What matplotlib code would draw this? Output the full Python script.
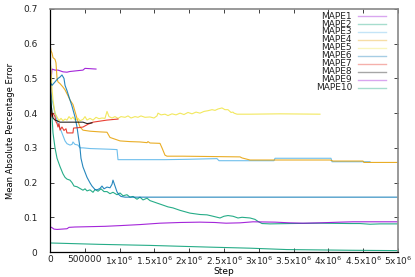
import numpy as np
import matplotlib
matplotlib.use("Agg")
import matplotlib.pyplot as plt

# step values in thousands, MAPE values
mape1_k = [0, 7, 14, 29, 72, 115, 187, 244, 287, 474, 503, 661]
mape1_v = [0.62, 0.50, 0.495, 0.527, 0.524, 0.524, 0.519, 0.518, 0.52, 0.524, 0.529, 0.527]

mape2_k = [0, 14, 29, 43, 72, 101, 144, 187, 216, 244, 287, 316, 345, 388, 431, 474, 503, 532,
           575, 618, 647, 690, 733, 776, 819, 862, 905, 963, 1006, 1049, 1106, 1149, 1193, 1250,
           1293, 1336, 1394, 1437, 1480, 1537, 1624, 1695, 1767, 1868, 1940, 2011, 2083, 2155,
           2256, 2342, 2443, 2500, 2557, 2629, 2701, 2759, 2874, 2945, 2989, 3046, 3161, 3448,
           3879, 4310, 4454, 4598, 4741, 4986]
mape2_v = [0.47, 0.44, 0.39, 0.343, 0.30, 0.27, 0.246, 0.225, 0.215, 0.21, 0.207, 0.20, 0.19,
           0.188, 0.183, 0.178, 0.182, 0.176, 0.179, 0.172, 0.18, 0.175, 0.182, 0.174, 0.174,
           0.168, 0.172, 0.165, 0.17, 0.162, 0.165, 0.158, 0.16, 0.152, 0.158, 0.15, 0.155,
           0.148, 0.145, 0.141, 0.135, 0.13, 0.127, 0.12, 0.116, 0.112, 0.11, 0.108, 0.107,
           0.103, 0.098, 0.103, 0.105, 0.103, 0.098, 0.10, 0.098, 0.094, 0.088, 0.082, 0.081,
           0.082, 0.083, 0.082, 0.082, 0.08, 0.081, 0.081]

mape3_k = [0, 29, 72, 115, 158, 187, 216, 244, 287, 316, 330, 359, 402, 431, 474, 575, 718,
           862, 963, 977, 1652, 1968, 2399, 2428, 3218, 3233, 4037, 4052, 4598]
mape3_v = [0.47, 0.44, 0.40, 0.37, 0.35, 0.335, 0.32, 0.312, 0.308, 0.31, 0.317, 0.31, 0.308,
           0.30, 0.30, 0.298, 0.297, 0.296, 0.295, 0.266, 0.266, 0.267, 0.269, 0.263, 0.263,
           0.27, 0.27, 0.26, 0.26]

mape4_k = [0, 14, 29, 43, 72, 86, 101, 115, 144, 187, 216, 259, 287, 330, 359, 388, 431, 474,
           575, 718, 819, 862, 934, 1006, 1149, 1293, 1394, 1408, 1437, 1580, 1609, 1652, 1681,
           1911, 2730, 2759, 2874, 4023, 4066, 4497, 4511, 4986]
mape4_v = [0.60, 0.58, 0.573, 0.56, 0.555, 0.545, 0.50, 0.49, 0.485, 0.475, 0.467, 0.45,
           0.438, 0.425, 0.405, 0.385, 0.36, 0.351, 0.348, 0.346, 0.345, 0.33, 0.325, 0.32,
           0.318, 0.317, 0.315, 0.318, 0.314, 0.313, 0.30, 0.279, 0.276, 0.276, 0.274, 0.271,
           0.265, 0.265, 0.262, 0.262, 0.258, 0.258]

mape5_k = [0, 14, 29, 43, 72, 101, 129, 158, 187, 216, 244, 273, 302, 330, 359, 402, 431, 474,
           503, 532, 575, 618, 661, 704, 747, 790, 819, 848, 891, 934, 977, 1020, 1078, 1121,
           1164, 1221, 1264, 1307, 1365, 1437, 1494, 1537, 1552, 1595, 1652, 1695, 1753, 1810,
           1868, 1925, 1983, 2040, 2098, 2155, 2213, 2270, 2328, 2371, 2414, 2471, 2514, 2557,
           2601, 2629, 2644, 2687, 2874, 3305, 3879]
mape5_v = [0.55, 0.53, 0.47, 0.438, 0.40, 0.389, 0.378, 0.385, 0.378, 0.383, 0.38, 0.39,
           0.383, 0.389, 0.38, 0.385, 0.378, 0.382, 0.39, 0.38, 0.385, 0.38, 0.388, 0.384,
           0.386, 0.385, 0.405, 0.39, 0.386, 0.39, 0.385, 0.39, 0.388, 0.392, 0.386, 0.39,
           0.388, 0.392, 0.388, 0.389, 0.386, 0.392, 0.40, 0.395, 0.397, 0.393, 0.398, 0.395,
           0.40, 0.396, 0.402, 0.398, 0.403, 0.40, 0.405, 0.407, 0.41, 0.408, 0.412, 0.415,
           0.41, 0.41, 0.402, 0.403, 0.40, 0.397, 0.397, 0.398, 0.397]

mape6_k = [0, 29, 72, 115, 144, 172, 201, 216, 244, 287, 316, 359, 388, 402, 431, 445, 474,
           503, 532, 575, 603, 647, 675, 718, 747, 776, 819, 862, 891, 905, 934, 963, 991,
           1020, 1078, 4986]
mape6_v = [0.49, 0.48, 0.49, 0.50, 0.504, 0.51, 0.50, 0.48, 0.465, 0.438, 0.42, 0.389, 0.36,
           0.34, 0.30, 0.27, 0.245, 0.23, 0.215, 0.199, 0.19, 0.18, 0.179, 0.183, 0.19, 0.182,
           0.187, 0.185, 0.195, 0.207, 0.19, 0.173, 0.165, 0.16, 0.158, 0.158]

mape7_k = [0, 29, 43, 72, 86, 101, 115, 129, 144, 172, 201, 230, 244, 330, 338, 402, 474, 546,
           618, 718, 819, 977]
mape7_v = [0.42, 0.389, 0.40, 0.39, 0.375, 0.37, 0.36, 0.37, 0.351, 0.36, 0.35, 0.355, 0.343,
           0.343, 0.357, 0.358, 0.36, 0.368, 0.374, 0.377, 0.38, 0.383]

mape8_k = [0, 7, 14, 29, 43, 72, 101, 144, 287, 474, 532, 603]
mape8_v = [0.62, 0.50, 0.43, 0.40, 0.386, 0.38, 0.378, 0.374, 0.374, 0.374, 0.37, 0.372]

mape9_k = [0, 29, 57, 101, 172, 244, 273, 359, 575, 790, 1006, 1293, 1580, 1868, 2155, 2371,
           2443, 2529, 2730, 2917, 3233, 3448, 3635, 3879, 4167, 4353, 4986]
mape9_v = [0.073, 0.07, 0.066, 0.065, 0.066, 0.067, 0.071, 0.072, 0.073, 0.074, 0.076, 0.079,
           0.083, 0.085, 0.086, 0.085, 0.084, 0.083, 0.084, 0.087, 0.086, 0.084, 0.083, 0.084,
           0.086, 0.087, 0.087]

mape10_k = [0, 718, 1437, 2299, 2874, 3405, 4310, 4986]
mape10_v = [0.026, 0.022, 0.019, 0.014, 0.011, 0.007, 0.005, 0.004]

labels = ["MAPE1", "MAPE2", "MAPE3", "MAPE4", "MAPE5",
          "MAPE6", "MAPE7", "MAPE8", "MAPE9", "MAPE10"]
xs = [mape1_k, mape2_k, mape3_k, mape4_k, mape5_k, mape6_k, mape7_k, mape8_k, mape9_k, mape10_k]
ys = [mape1_v, mape2_v, mape3_v, mape4_v, mape5_v, mape6_v, mape7_v, mape8_v, mape9_v, mape10_v]

# gnuplot default line colours
colors = ["#9400d3", "#009e73", "#56b4e9", "#e69f00", "#f0e442",
          "#0072b2", "#e51e10", "#000000", "#9400d3", "#009e73"]

xtick_vals = [0, 0.5e6, 1e6, 1.5e6, 2e6, 2.5e6, 3e6, 3.5e6, 4e6, 4.5e6, 5e6]
xtick_labels = ["0", "500000", "1x10$^{6}$", "1.5x10$^{6}$", "2x10$^{6}$", "2.5x10$^{6}$",
                "3x10$^{6}$", "3.5x10$^{6}$", "4x10$^{6}$", "4.5x10$^{6}$", "5x10$^{6}$"]
ytick_vals = [0, 0.1, 0.2, 0.3, 0.4, 0.5, 0.6, 0.7]
ytick_labels = ["0", "0.1", "0.2", "0.3", "0.4", "0.5", "0.6", "0.7"]

fig = plt.figure(figsize=(4.15, 2.77), dpi=100)
ax = fig.add_axes([50 / 415, 25 / 277, 348 / 415, 243 / 277])

for x, y, c in zip(xs, ys, colors):
    ax.plot(np.array(x) * 1000, y, color=c, lw=0.8, alpha=0.85)

ax.set_xlim(0, 5e6)
ax.set_ylim(0, 0.7)
ax.set_xticks(xtick_vals)
ax.set_xticklabels(xtick_labels)
ax.set_yticks(ytick_vals)
ax.set_yticklabels(ytick_labels)
ax.tick_params(direction="in", length=3, width=0.6, labelsize=6.5,
               top=True, right=True, colors="#222222")
ax.tick_params(axis="x", pad=2)
ax.tick_params(axis="y", pad=9)
ax.set_xlabel("Step", fontsize=6.5, labelpad=0)
ax.set_ylabel("Mean Absolute Percentage Error", fontsize=6, labelpad=6)

for side in ["left", "bottom"]:
    ax.spines[side].set_color("black")
    ax.spines[side].set_linewidth(0.9)
for side in ["top", "right"]:
    ax.spines[side].set_color("#888888")
    ax.spines[side].set_linewidth(1.2)

# key drawn by hand so the labels are right aligned like gnuplot
for i, (lab, c) in enumerate(zip(labels, colors)):
    yy = 0.971 - i * 0.0328
    ax.text(0.868, yy, lab, transform=ax.transAxes, ha="right", va="center",
            fontsize=6.5, color="#222222")
    ax.plot([0.885, 0.966], [yy, yy], transform=ax.transAxes, color=c,
            lw=1.0, alpha=0.35)

fig.savefig("out.png", dpi=100)
